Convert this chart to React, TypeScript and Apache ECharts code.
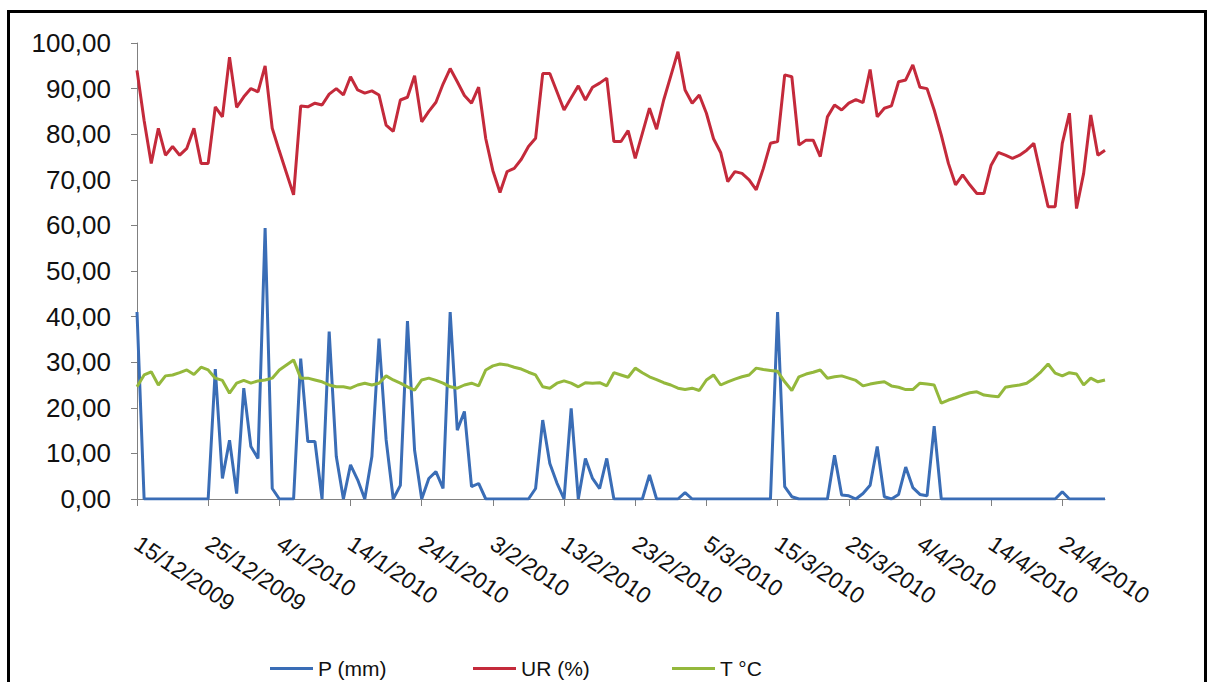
import React, { useEffect, useRef } from "react";
import * as echarts from "echarts";

const startDate = { year: 2009, month: 12, day: 15 };
const dayCount = 137;
const labelEvery = 10;

const precipitation = [
  41, 0, 0, 0, 0, 0, 0, 0, 0, 0,
  0, 28.5, 4.5, 12.9, 1.2, 24.3, 11.5, 8.9, 59.4, 2.3,
  0, 0, 0, 30.8, 12.6, 12.6, 0, 36.7, 9.3, 0,
  7.5, 4.2, 0, 9.3, 35.2, 13, 0, 3, 39, 10.7,
  0, 4.5, 6, 2.3, 41, 15.1, 19.2, 2.7, 3.4, 0,
  0, 0, 0, 0, 0, 0, 2.3, 17.3, 7.8, 3.5,
  0, 19.9, 0, 8.9, 4.5, 2.3, 8.9, 0, 0, 0,
  0, 0, 5.3, 0, 0, 0, 0, 1.4, 0, 0,
  0, 0, 0, 0, 0, 0, 0, 0, 0, 0,
  41, 2.7, 0.5, 0, 0, 0, 0, 0, 9.6, 0.9,
  0.7, 0, 1.2, 3, 11.5, 0.5, 0, 1, 7, 2.5,
  1, 0.7, 16, 0, 0, 0, 0, 0, 0, 0,
  0, 0, 0, 0, 0, 0, 0, 0, 0, 0,
  1.6, 0, 0, 0, 0, 0, 0,
];

const humidity = [
  94, 83, 73.6, 81.3, 75.4, 77.3, 75.4, 76.9, 81.3, 73.6,
  73.6, 86, 83.8, 96.9, 85.9, 88.2, 90, 89.3, 95, 81.3,
  76.3, 71.5, 66.7, 86.2, 86, 86.8, 86.4, 88.8, 90, 88.6,
  92.6, 89.7, 89, 89.5, 88.6, 82, 80.6, 87.5, 88.1, 92.8,
  82.7, 85, 87, 91, 94.4, 91.5, 88.5, 86.8, 90.3, 79,
  72, 67.2, 71.8, 72.5, 74.5, 77.3, 79.1, 93.3, 93.3, 89.3,
  85.3, 88, 90.6, 87.5, 90.3, 91.2, 92.3, 78.4, 78.4, 80.8,
  74.7, 80.2, 85.7, 81.1, 87.5, 92.8, 98.1, 89.7, 86.8, 88.6,
  84.6, 79, 76, 69.6, 71.8, 71.4, 70, 67.8, 72.5, 78,
  78.4, 93, 92.6, 77.6, 78.7, 78.7, 75.1, 83.8, 86.4, 85.3,
  86.8, 87.6, 86.9, 94.2, 83.8, 85.7, 86.2, 91.5, 91.9, 95.2,
  90.3, 90, 85.3, 79.8, 73.6, 68.9, 71.1, 68.9, 67, 67,
  73.2, 76, 75.4, 74.7, 75.4, 76.5, 78, 71, 64.1, 64.1,
  78, 84.6, 63.7, 71.4, 84.2, 75.4, 76.5,
];

const temperature = [
  24.6, 27.2, 27.9, 25, 27, 27.2, 27.7, 28.3, 27.3, 28.9,
  28.3, 26.5, 26, 23.2, 25.4, 26, 25.4, 25.9, 26.1, 26.5,
  28.3, 29.4, 30.5, 26.5, 26.5, 26.1, 25.7, 25, 24.6, 24.6,
  24.3, 25, 25.4, 25, 25.4, 27, 26.1, 25.4, 24.6, 23.9,
  26.1, 26.5, 26, 25.4, 24.6, 24.3, 25, 25.4, 24.8, 28.3,
  29.2, 29.6, 29.4, 28.9, 28.5, 27.8, 27.2, 24.6, 24.3, 25.4,
  25.9, 25.4, 24.6, 25.5, 25.4, 25.5, 24.8, 27.7, 27.2, 26.7,
  28.7, 27.7, 26.8, 26.2, 25.5, 25, 24.3, 24, 24.3, 23.8,
  26.1, 27.2, 25, 25.7, 26.3, 26.8, 27.2, 28.7, 28.4, 28.2,
  28, 25.7, 23.8, 26.8, 27.4, 27.8, 28.3, 26.5, 26.8, 27,
  26.5, 26, 24.8, 25.2, 25.5, 25.7, 24.8, 24.5, 24, 24,
  25.4, 25.2, 25, 21, 21.7, 22.2, 22.8, 23.3, 23.5, 22.8,
  22.6, 22.4, 24.5, 24.8, 25, 25.4, 26.5, 27.9, 29.6, 27.6,
  27, 27.7, 27.4, 25, 26.5, 25.7, 26.1,
];

const seriesNames = ["P (mm)", "UR (%)", "T °C"];
const seriesColors = ["#3A6DB6", "#C42A3B", "#94B83C"];
const yTicks = { min: 0, max: 100, interval: 10 };

function buildDates(): string[] {
  const out: string[] = [];
  const d = new Date(startDate.year, startDate.month - 1, startDate.day);
  for (let i = 0; i < dayCount; i++) {
    out.push(`${d.getDate()}/${d.getMonth() + 1}/${d.getFullYear()}`);
    d.setDate(d.getDate() + 1);
  }
  return out;
}

export default function App() {
  const ref = useRef<HTMLDivElement>(null);
  useEffect(() => {
    if (!ref.current) return;
    const chart = echarts.init(ref.current, undefined, { renderer: "svg" });
    const dates = buildDates();
    const font = "'Liberation Sans', Arial, sans-serif";
    const values = [precipitation, humidity, temperature];
    const legendLefts = [265, 468, 667];
    const every = (idx: number) => idx % labelEvery === 0;
    chart.setOption({
      animation: false,
      backgroundColor: "#ffffff",
      textStyle: { fontFamily: font },
      grid: {
        left: 137,
        top: 43,
        right: 104,
        bottom: 183,
        containLabel: false,
        outerBoundsMode: "none",
      },
      legend: seriesNames.map((n, i) => ({
        data: [{ name: n, icon: "rect" }],
        left: legendLefts[i],
        top: 653,
        itemWidth: 43,
        itemHeight: 3,
        itemGap: 5,
        textStyle: { fontSize: 21, color: "#111", fontFamily: font },
      })),
      graphic: [
        {
          type: "rect",
          shape: { x: 8.5, y: 11.5, width: 1197, height: 720 },
          style: { fill: "none", stroke: "#000", lineWidth: 3 },
          silent: true,
        },
      ],
      xAxis: {
        type: "category",
        data: dates,
        boundaryGap: false,
        axisLine: { lineStyle: { color: "#808080", width: 1 } },
        axisTick: { interval: every, length: 7, lineStyle: { color: "#808080" } },
        axisLabel: {
          interval: every,
          rotate: -34,
          margin: 42,
          fontSize: 23,
          color: "#111",
          fontFamily: font,
          hideOverlap: false,
        },
        splitLine: { show: false },
      },
      yAxis: {
        type: "value",
        min: yTicks.min,
        max: yTicks.max,
        interval: yTicks.interval,
        axisLine: { show: true, lineStyle: { color: "#808080", width: 1 } },
        axisTick: { show: true, length: 6, lineStyle: { color: "#808080" } },
        axisLabel: {
          margin: 26,
          fontSize: 26,
          color: "#111",
          fontFamily: font,
          formatter: (v: number) => v.toFixed(2).replace(".", ","),
        },
        splitLine: { show: false },
      },
      series: seriesNames.map((n, i) => ({
        name: n,
        type: "line",
        data: values[i],
        symbol: "none",
        showSymbol: false,
        color: seriesColors[i],
        itemStyle: { color: seriesColors[i] },
        lineStyle: { color: seriesColors[i], width: 3 },
        z: 2 + i,
      })),
    });
    return () => chart.dispose();
  }, []);
  return (
    <div
      ref={ref}
      style={{ position: "absolute", left: 0, top: 0, width: 1209, height: 682 }}
    />
  );
}
